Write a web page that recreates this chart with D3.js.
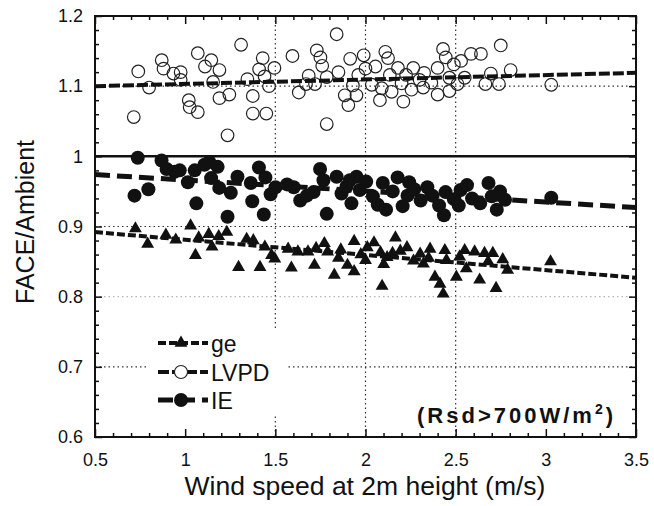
<!DOCTYPE html>
<html lang="en">
<head>
<meta charset="UTF-8">
<title>FACE/Ambient vs wind speed</title>
<script src="https://d3js.org/d3.v7.min.js"></script>
<style>
  body { margin: 0; background: #fff; }
  svg text { font-family: "Liberation Sans", Arial, sans-serif; fill: #111; }
</style>
</head>
<body>
<svg id="chart" width="654" height="506"></svg>
<script>
// values
var lvpdPts = [[0.74,1.121],[0.715,1.056],[0.80,1.098],[0.87,1.137],[0.88,1.125],[0.935,1.118],[0.975,1.120],[0.975,1.109],
  [1.02,1.080],[1.025,1.070],[1.07,1.063],[1.07,1.147],[1.11,1.128],[1.145,1.137],[1.155,1.106],[1.19,1.123],[1.19,1.083],
  [1.235,1.030],[1.245,1.088],[1.31,1.159],[1.345,1.110],[1.375,1.086],[1.375,1.061],[1.43,1.140],[1.41,1.124],[1.44,1.114],
  [1.45,1.061],[1.465,1.100],[1.495,1.126],[1.595,1.143],[1.63,1.091],[1.72,1.103],[1.73,1.151],[1.75,1.141],[1.76,1.129],
  [1.785,1.046],[1.785,1.113],[1.84,1.174],[1.85,1.120],[1.885,1.087],[1.905,1.073],[1.915,1.139],[1.95,1.087],[1.96,1.116],
  [1.99,1.144],[2.0,1.125],[2.035,1.102],[2.055,1.128],[2.08,1.080],[2.11,1.149],[2.125,1.140],[2.135,1.116],[2.145,1.092],
  [2.18,1.126],[2.2,1.104],[2.21,1.078],[2.225,1.116],[2.255,1.095],[2.265,1.126],[2.3,1.109],[2.32,1.098],[2.325,1.119],
  [2.365,1.105],[2.4,1.126],[2.43,1.153],[2.445,1.141],[2.465,1.112],[2.465,1.093],[2.49,1.131],[2.51,1.103],[2.53,1.136],
  [2.585,1.146],[2.64,1.146],[2.665,1.103],[2.695,1.118],[2.74,1.103],[2.75,1.158],[2.805,1.123],[3.03,1.102],[1.685,1.115],
  [1.93,1.101],[2.09,1.097],[2.40,1.088],[2.55,1.112],[1.67,1.103]];

var iePts = [[0.737,0.998],[0.719,0.944],[0.796,0.953],[0.869,0.994],[0.897,0.982],[0.942,0.978],[0.97,0.980],[1.015,0.963],
  [1.062,0.933],[1.053,0.980],[1.107,0.988],[1.134,0.992],[1.144,0.969],[1.18,0.985],[1.189,0.955],[1.235,0.914],[1.253,0.948],
  [1.29,0.971],[1.364,0.962],[1.372,0.936],[1.409,0.984],[1.436,0.917],[1.445,0.970],[1.474,0.946],[1.501,0.956],[1.602,0.956],
  [1.638,0.937],[1.712,0.949],[1.748,0.982],[1.767,0.966],[1.785,0.918],[1.84,0.971],[1.867,0.947],[1.895,0.957],[1.922,0.933],
  [1.95,0.971],[1.968,0.952],[2.004,0.964],[2.041,0.943],[2.068,0.931],[2.096,0.962],[2.114,0.924],[2.151,0.950],[2.178,0.970],
  [2.206,0.929],[2.233,0.944],[2.27,0.953],[2.306,0.937],[2.343,0.956],[2.371,0.944],[2.408,0.930],[2.435,0.916],[2.444,0.949],
  [2.49,0.939],[2.527,0.952],[2.563,0.959],[2.591,0.940],[2.636,0.933],[2.682,0.962],[2.70,0.943],[2.728,0.924],[2.746,0.950],
  [2.774,0.938],[3.03,0.941],[1.913,0.966],[2.242,0.963],[2.517,0.930],[1.565,0.960],[1.675,0.944]];

var gePts = [[0.724,0.897],[0.792,0.875],[0.893,0.888],[0.948,0.881],[1.03,0.901],[1.057,0.859],[1.075,0.884],[1.131,0.889],
  [1.149,0.871],[1.186,0.886],[1.231,0.892],[1.296,0.842],[1.341,0.882],[1.378,0.880],[1.415,0.842],[1.442,0.871],[1.479,0.859],
  [1.497,0.854],[1.589,0.841],[1.625,0.864],[1.717,0.845],[1.726,0.869],[1.772,0.876],[1.79,0.864],[1.827,0.831],[1.863,0.867],
  [1.90,0.845],[1.937,0.879],[1.937,0.836],[1.974,0.860],[2.01,0.870],[2.047,0.877],[2.083,0.863],[2.092,0.815],[2.12,0.856],
  [2.166,0.884],[2.193,0.865],[2.23,0.870],[2.266,0.851],[2.303,0.861],[2.358,0.868],[2.385,0.828],[2.413,0.818],[2.431,0.804],
  [2.44,0.866],[2.449,0.852],[2.504,0.828],[2.522,0.857],[2.559,0.840],[2.605,0.864],[2.633,0.824],[2.66,0.862],[2.706,0.862],
  [2.724,0.812],[2.761,0.853],[2.788,0.838],[3.026,0.850],[1.571,0.868],[1.681,0.864],[2.321,0.847],[2.101,0.846],
  [2.15,0.862],[2.35,0.855],[2.55,0.866],[2.68,0.850],[1.85,0.855],[2.0,0.852]];

// fitted lines (end points) and the 1.0 reference
var lvpdFit = [[0.5,1.100],[3.5,1.119]];
var ieFit = [[0.5,0.974],[3.5,0.927]];
var geFit = [[0.5,0.892],[3.5,0.827]];
var refLine = [[0.5,1.0],[3.5,1.0]];

var xTicks = [0.5,1,1.5,2,2.5,3,3.5];
var yTicks = [0.6,0.7,0.8,0.9,1.0,1.1,1.2];
var xGrid = [1.5,2,2.5];
var yGrid = [0.7,0.8,0.9,1.1];
var legendNames = ["ge","LVPD","IE"];

var L = 95, R = 636, T = 16, B = 437;
var svg = d3.select("#chart");

var x = d3.scaleLinear().domain([0.5,3.5]).range([L,R]);
var y = d3.scaleLinear().domain([0.6,1.2]).range([B,T]);

var xMinor = d3.range(5,36).map(function(d){ return d/10; }).filter(function(d){ return xTicks.indexOf(d) < 0; });
var yMinor = d3.range(30,61).map(function(d){ return d/50; }).filter(function(d){ return Math.abs(Math.round(d*10) - d*10) > 1e-6; });

// dotted grid
svg.append("g").selectAll("line").data(xGrid).join("line")
  .attr("x1", function(d){ return x(d); }).attr("x2", function(d){ return x(d); })
  .attr("y1", T).attr("y2", B)
  .attr("stroke", "#333").attr("stroke-width", 1.2).attr("stroke-dasharray", "1.5,3");
svg.append("g").selectAll("line").data(yGrid).join("line")
  .attr("x1", L).attr("x2", R)
  .attr("y1", function(d){ return y(d); }).attr("y2", function(d){ return y(d); })
  .attr("stroke", "#333").attr("stroke-width", 1.2).attr("stroke-dasharray", "1.5,3")
  .attr("opacity", function(d){ return d === 0.8 ? 0.35 : 1; });

// axes, ticks pointing inward on all sides
svg.append("g").attr("transform", "translate(0," + B + ")")
  .call(d3.axisBottom(x).tickValues(xTicks).tickSize(-8).tickSizeOuter(0).tickPadding(16).tickFormat(d3.format("")));
svg.append("g").attr("transform", "translate(0," + B + ")")
  .call(d3.axisBottom(x).tickValues(xMinor).tickSize(-4).tickSizeOuter(0).tickFormat(""));
svg.append("g").attr("transform", "translate(0," + T + ")")
  .call(d3.axisTop(x).tickValues(xTicks).tickSize(-8).tickSizeOuter(0).tickFormat(""));
svg.append("g").attr("transform", "translate(0," + T + ")")
  .call(d3.axisTop(x).tickValues(xMinor).tickSize(-4).tickSizeOuter(0).tickFormat(""));
svg.append("g").attr("transform", "translate(" + L + ",0)")
  .call(d3.axisLeft(y).tickValues(yTicks).tickSize(-7).tickSizeOuter(0).tickPadding(12)
    .tickFormat(function(d){ return d === 1 ? "1" : d3.format(".1f")(d); }));
svg.append("g").attr("transform", "translate(" + L + ",0)")
  .call(d3.axisLeft(y).tickValues(yMinor).tickSize(-4).tickSizeOuter(0).tickFormat(""));
svg.append("g").attr("transform", "translate(" + R + ",0)")
  .call(d3.axisRight(y).tickValues(yTicks).tickSize(-7).tickSizeOuter(0).tickFormat(""));
svg.append("g").attr("transform", "translate(" + R + ",0)")
  .call(d3.axisRight(y).tickValues(yMinor).tickSize(-4).tickSizeOuter(0).tickFormat(""));

svg.selectAll(".domain").remove();
svg.selectAll(".tick line").attr("stroke", "#111").attr("stroke-width", 1.5);
svg.selectAll(".tick text").attr("font-size", 18).attr("fill", "#111")
  .style("font-family", "'Liberation Sans', Arial, sans-serif");

svg.append("rect").attr("x", L).attr("y", T).attr("width", R - L).attr("height", B - T)
  .attr("fill", "none").attr("stroke", "#111").attr("stroke-width", 2);

var line = d3.line().x(function(d){ return x(d[0]); }).y(function(d){ return y(d[1]); });

svg.append("path").datum(refLine).attr("d", line)
  .attr("stroke", "#111").attr("stroke-width", 2.5).attr("fill", "none");

// open circles (LVPD)
svg.append("g").selectAll("circle").data(lvpdPts).join("circle")
  .attr("cx", function(d){ return x(d[0]); }).attr("cy", function(d){ return y(d[1]); })
  .attr("r", 6.3).attr("fill", "none").attr("stroke", "#222").attr("stroke-width", 1.2);
svg.append("path").datum(lvpdFit).attr("d", line)
  .attr("stroke", "#111").attr("stroke-width", 4).attr("stroke-dasharray", "11,3").attr("fill", "none");

// filled circles (IE)
svg.append("g").selectAll("circle").data(iePts).join("circle")
  .attr("cx", function(d){ return x(d[0]); }).attr("cy", function(d){ return y(d[1]); })
  .attr("r", 7).attr("fill", "#111");
svg.append("path").datum(ieFit).attr("d", line)
  .attr("stroke", "#111").attr("stroke-width", 5).attr("stroke-dasharray", "15,7").attr("fill", "none");

// triangles (ge)
var tri = d3.symbol().type(d3.symbolTriangle).size(72);
svg.append("g").selectAll("path").data(gePts).join("path")
  .attr("d", tri)
  .attr("transform", function(d){ return "translate(" + x(d[0]) + "," + y(d[1]) + ")"; })
  .attr("fill", "#111");
svg.append("path").datum(geFit).attr("d", line)
  .attr("stroke", "#111").attr("stroke-width", 4).attr("stroke-dasharray", "8,3").attr("fill", "none");

// legend
var lg = svg.append("g");
lg.append("rect").attr("x", 148).attr("y", 330).attr("width", 138).attr("height", 84).attr("fill", "#fff");
var rowsY = [343, 372, 400];
var dashes = ["8,3", "11,3", "15,7"];
var widths = [4, 4, 5];
legendNames.forEach(function(name, i) {
  var cy = rowsY[i];
  lg.append("line").attr("x1", 158).attr("x2", 208).attr("y1", cy).attr("y2", cy)
    .attr("stroke", "#111").attr("stroke-width", widths[i]).attr("stroke-dasharray", dashes[i]);
  if (i === 0) {
    lg.append("path").attr("d", tri).attr("transform", "translate(181," + cy + ")").attr("fill", "#111");
  } else if (i === 1) {
    lg.append("circle").attr("cx", 181).attr("cy", cy).attr("r", 6.5).attr("fill", "#fff")
      .attr("stroke", "#222").attr("stroke-width", 1.1);
  } else {
    lg.append("circle").attr("cx", 181).attr("cy", cy).attr("r", 7).attr("fill", "#111");
  }
  lg.append("text").attr("x", 211).attr("y", cy + 9).attr("font-size", 23).text(name);
});

// annotation
var ann = svg.append("text").attr("x", 417).attr("y", 423).attr("font-size", 22)
  .attr("font-weight", "bold").attr("letter-spacing", 3);
ann.append("tspan").text("(Rsd>700W/m");
ann.append("tspan").attr("font-size", 14).attr("dy", -9).text("2");
ann.append("tspan").attr("dy", 9).text(")");

// axis titles
svg.append("text").attr("x", 365).attr("y", 495).attr("text-anchor", "middle")
  .attr("font-size", 26.5).text("Wind speed at 2m height (m/s)");
svg.append("text").attr("transform", "translate(34,222) rotate(-90)").attr("text-anchor", "middle")
  .attr("font-size", 25).text("FACE/Ambient");
</script>
</body>
</html>
